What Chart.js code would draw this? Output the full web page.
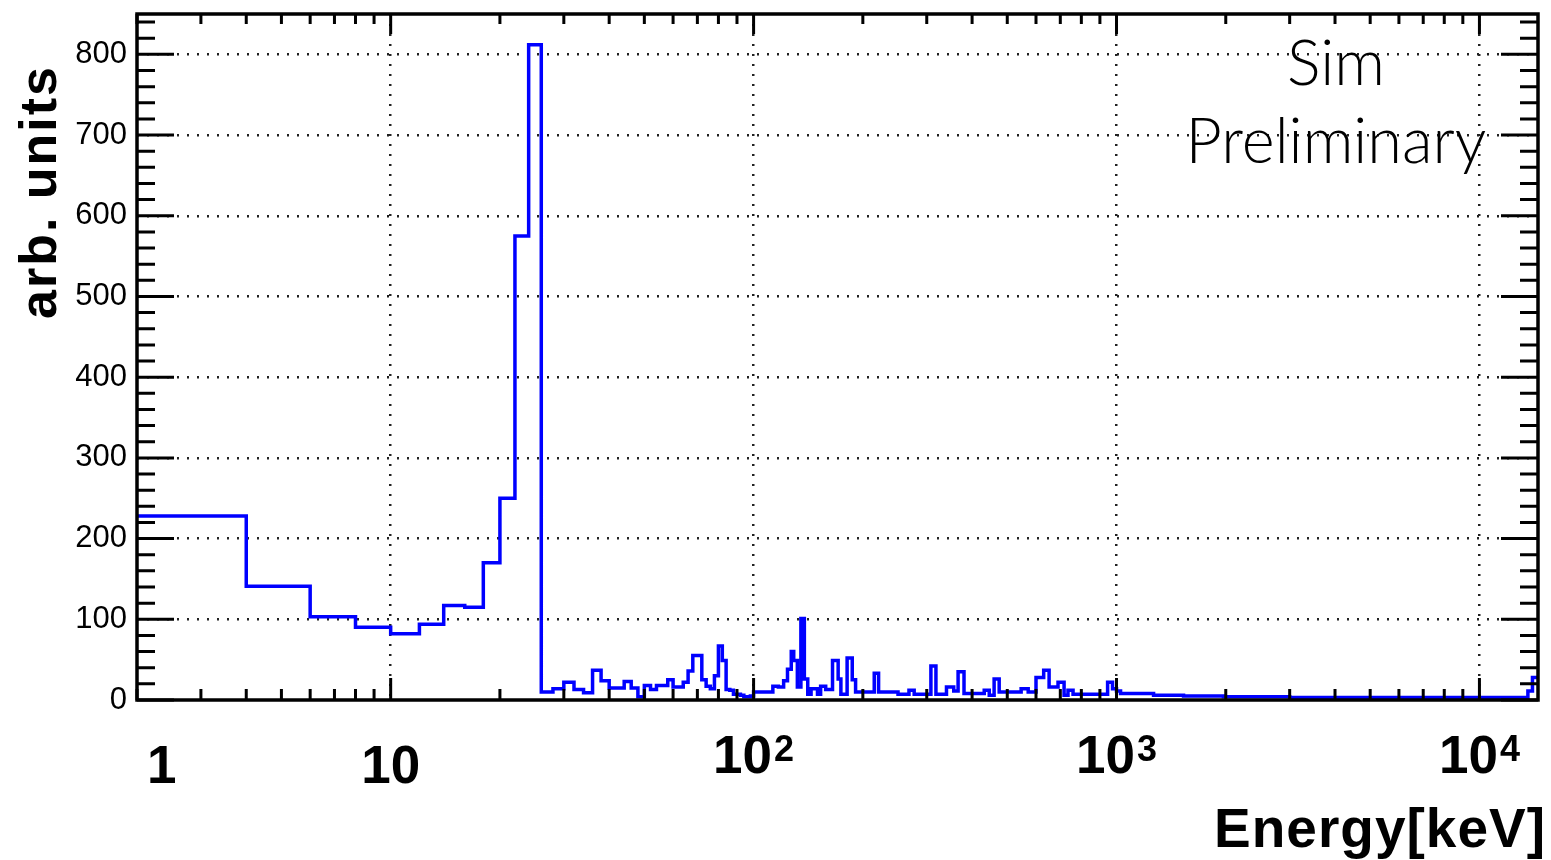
<!DOCTYPE html>
<html>
<head>
<meta charset="utf-8">
<script src="https://cdn.jsdelivr.net/npm/chart.js@4.4.0/dist/chart.umd.min.js"></script>
<style>
  html, body { margin: 0; padding: 0; background: #fff; }
  #wrap { width: 1551px; height: 860px; }
</style>
</head>
<body>
<div id="wrap"><canvas id="spectrum"></canvas></div>
<script>
// bin edges in keV: 2 keV bins up to 100 keV, wider bins above where only the envelope can be read
const binEdges = [2, 4, 6, 8, 10, 12, 14, 16, 18, 20, 22, 24, 26, 28, 30, 32, 34, 36, 38, 40,
  42, 44, 46, 48, 50, 52, 54, 56, 58, 60, 62, 64, 66, 68, 70, 72, 74, 76, 78, 80,
  82, 84, 86, 88, 90, 92, 94, 96, 98, 100,
  113, 117, 121, 124, 127, 129, 132, 135, 138, 141, 144, 150, 153, 158, 165, 171, 174, 181, 187, 191,
  215, 221, 250, 268, 277, 308, 318, 340, 356, 366, 380, 432, 446, 460, 475, 546, 571, 600, 630, 652,
  690, 717, 735, 759, 945, 975, 1000, 1026, 1265, 1530, 1970, 3000, 5000, 10000, 13600, 14000, 14500];

const counts = [228, 141, 103, 90, 82, 94, 117, 115, 170, 250, 575, 812,
  10, 14, 22, 13, 9, 37, 24, 15, 15, 23, 15, 4,
  18, 13, 18, 18, 25, 16, 16, 22, 36, 55, 55, 25,
  17, 14, 30, 67, 49, 13, 12, 7, 7, 6, 4, 4, 5,
  10, 17, 16, 24, 38, 60, 49, 16, 101, 26, 7, 14, 7, 17, 13, 49, 26, 7, 52, 25,
  10, 33, 10, 7, 12, 7, 42, 7, 16, 11, 35, 8, 12, 6, 26, 10, 14, 10, 28, 37,
  16, 22, 6, 12, 7, 22, 14, 11, 8, 6, 5, 4, 3, 3, 3, 11, 28];

const yTickValues = [0, 100, 200, 300, 400, 500, 600, 700, 800];
const xGridValues = [10, 100, 1000, 10000];
const xLabelValues = [2.34, 10, 100, 1000, 10000];
const xLabelBase = ["1", "10", "10", "10", "10"];
const xLabelExp = ["", "", "2", "3", "4"];

const xMin = 2, xMax = 14500, yMax = 850;

const points = counts.map((c, i) => ({ x: binEdges[i], y: c }));
points.push({ x: binEdges[binEdges.length - 1], y: counts[counts.length - 1] });

const sans = "'Liberation Sans', Arial, Helvetica, sans-serif";

// ROOT style frame: ticks inside on all four sides, axis labels and the "Sim Preliminary" tag
const rootFrame = {
  id: "rootFrame",
  afterDraw(chart) {
    const { ctx, chartArea: a, scales: { x, y } } = chart;
    ctx.save();
    ctx.strokeStyle = "#000";
    ctx.lineWidth = 3;
    ctx.beginPath();
    for (let v = 0; v < yMax; v += 20) {
      const py = y.getPixelForValue(v);
      const len = v % 100 === 0 ? 37 : 18;
      ctx.moveTo(a.left, py); ctx.lineTo(a.left + len, py);
      ctx.moveTo(a.right, py); ctx.lineTo(a.right - len, py);
    }
    for (let d = 1; d <= 10000; d *= 10) {
      for (let m = 1; m <= 9; m++) {
        const v = m * d;
        if (v < xMin || v > xMax) continue;
        const px = x.getPixelForValue(v);
        const major = m === 1;
        ctx.moveTo(px, a.bottom); ctx.lineTo(px, a.bottom - (major ? 22 : 11));
        ctx.moveTo(px, a.top); ctx.lineTo(px, a.top + (major ? 20 : 10));
      }
    }
    ctx.stroke();
    ctx.lineWidth = 3.5;
    ctx.strokeRect(a.left, a.top, a.right - a.left, a.bottom - a.top);

    // x tick labels, with the exponent drawn as a raised smaller number
    ctx.fillStyle = "#000";
    ctx.textBaseline = "alphabetic";
    ctx.textAlign = "left";
    xLabelValues.forEach((v, i) => {
      const px = x.getPixelForValue(v);
      const baseFont = "bold 53px " + sans;
      const expFont = "bold 36px " + sans;
      ctx.font = baseFont;
      const wb = ctx.measureText(xLabelBase[i]).width;
      ctx.font = expFont;
      const we = xLabelExp[i] ? ctx.measureText(xLabelExp[i]).width + 2 : 0;
      const left = px - (wb + we) / 2;
      const baseY = xLabelExp[i] ? 773 : 783;
      ctx.font = baseFont;
      ctx.fillText(xLabelBase[i], left, baseY);
      if (xLabelExp[i]) {
        ctx.font = expFont;
        ctx.fillText(xLabelExp[i], left + wb + 2, baseY - 12);
      }
    });

    // axis titles
    ctx.save();
    ctx.font = "bold 55px " + sans;
    ctx.letterSpacing = "1px";
    ctx.textAlign = "right";
    ctx.fillText("Energy[keV]", 1546, 847);
    ctx.restore();

    ctx.save();
    ctx.translate(56, 192);
    ctx.rotate(-Math.PI / 2);
    ctx.textAlign = "center";
    ctx.font = "bold 52px " + sans;
    ctx.letterSpacing = "2px";
    ctx.fillText("arb. units", 0, 0);
    ctx.restore();

    ctx.textAlign = "center";
    ctx.font = "300 63px Lato, 'Open Sans', " + sans;
    ctx.fillText("Sim", 1336, 85);
    ctx.fillText("Preliminary", 1336, 163);
    ctx.restore();
  }
};

new Chart(document.getElementById("spectrum"), {
  type: "line",
  data: {
    datasets: [{
      data: points,
      stepped: "before",
      borderColor: "#0000ff",
      borderWidth: 3.5,
      pointRadius: 0,
      fill: false
    }]
  },
  options: {
    responsive: true,
    maintainAspectRatio: false,
    animation: false,
    layout: { padding: { top: 14, right: 13, left: 0, bottom: 0 } },
    plugins: { legend: { display: false }, tooltip: { enabled: false } },
    scales: {
      x: {
        type: "logarithmic",
        min: xMin,
        max: xMax,
        afterBuildTicks: (scale) => { scale.ticks = xGridValues.map(v => ({ value: v })); },
        afterFit: (scale) => { scale.height = 160; scale.paddingLeft = 0; scale.paddingRight = 0; },
        ticks: { display: false },
        grid: { color: "#222", lineWidth: 2.5, drawTicks: false },
        border: { display: false, dash: [2, 8] }
      },
      y: {
        min: 0,
        max: yMax,
        afterBuildTicks: (scale) => { scale.ticks = yTickValues.map(v => ({ value: v })); },
        afterFit: (scale) => { scale.width = 137; scale.paddingTop = 0; scale.paddingBottom = 0; },
        ticks: {
          color: "#000",
          padding: 10,
          font: { family: sans, size: 31 }
        },
        grid: {
          color: (c) => (c.tick && c.tick.value === 0 ? "rgba(0,0,0,0)" : "#222"),
          lineWidth: 2.5,
          drawTicks: false
        },
        border: { display: false, dash: [2, 8] }
      }
    }
  },
  plugins: [rootFrame]
});
</script>
</body>
</html>
